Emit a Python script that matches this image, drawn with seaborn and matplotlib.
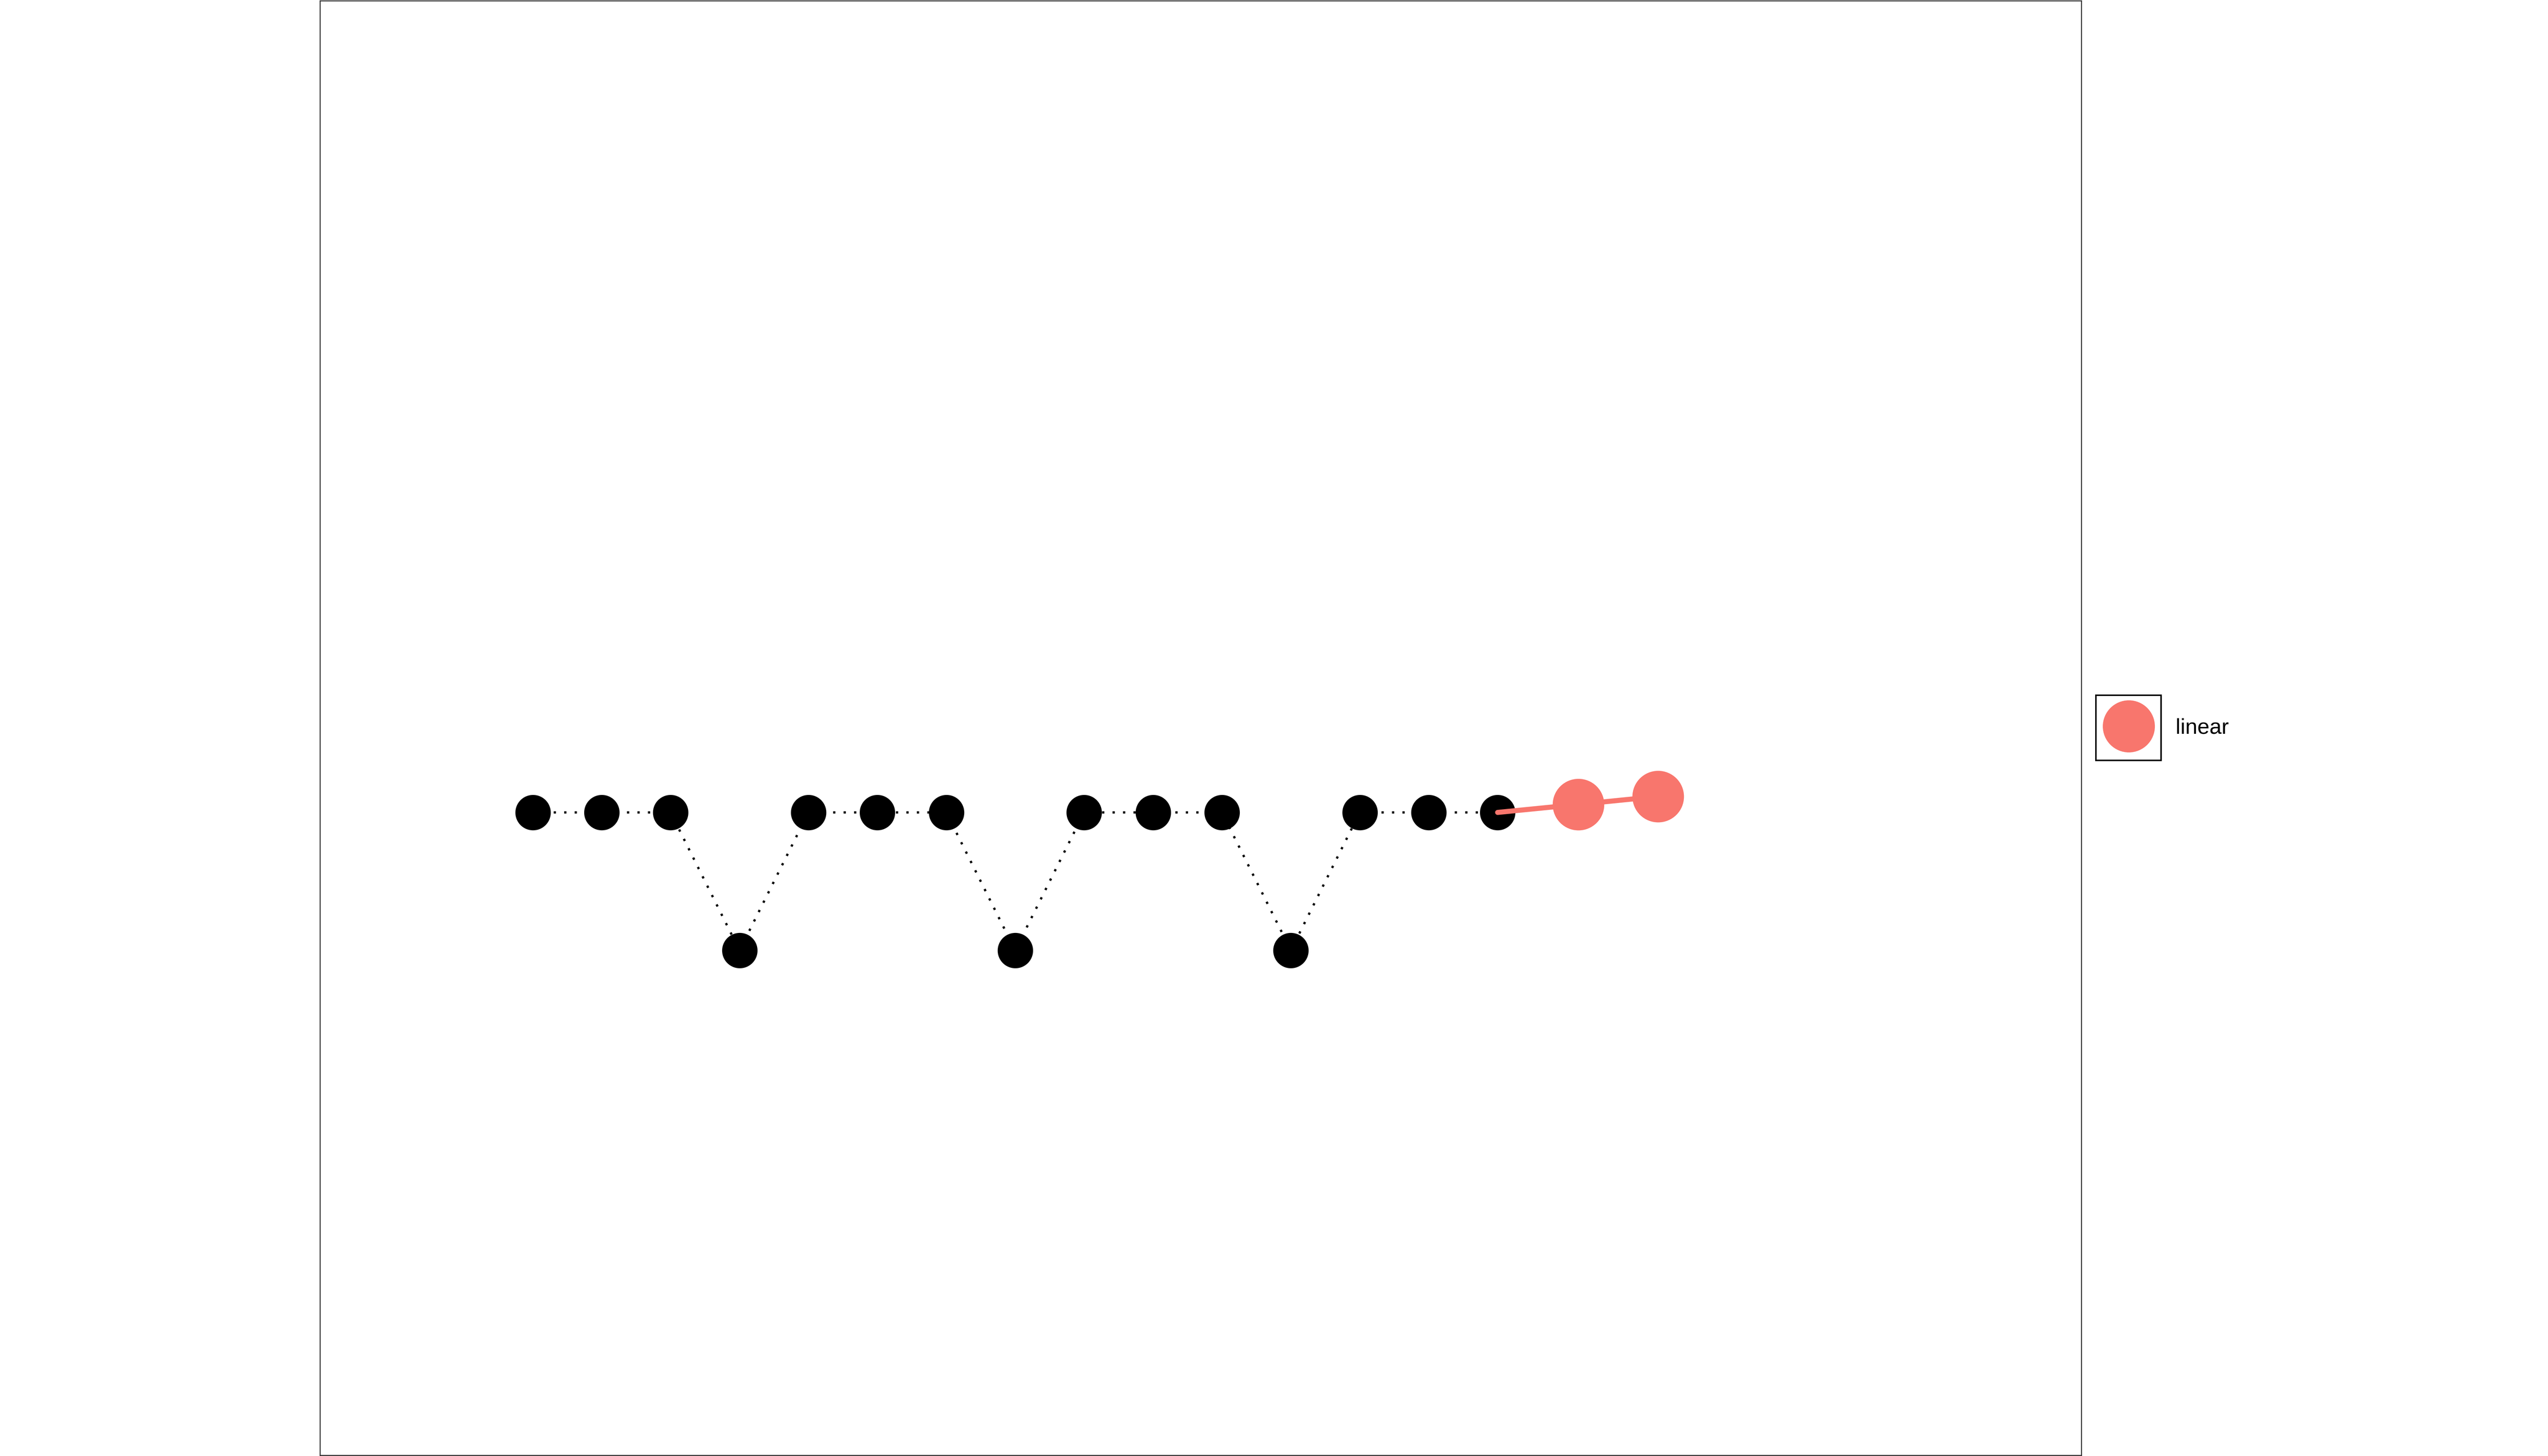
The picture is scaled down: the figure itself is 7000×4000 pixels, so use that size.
import numpy
import pandas
from matplotlib import pyplot as plt
from matplotlib.lines import Line2D
from matplotlib.patches import Rectangle
import seaborn

# observed series and the linear forecast that follows it
obs_x = [1, 2, 3, 4, 5, 6, 7, 8, 9, 10, 11, 12, 13, 14, 15]
obs_y = [1, 1, 1, 0, 1, 1, 1, 0, 1, 1, 1, 0, 1, 1, 1]
fc_x = [16.17, 17.33]
fc_y = [1.058, 1.116]
fc_label = "linear"

red = "#F8766D"

seaborn.set_style("white")
plt.rcParams['font.family'] = ['Liberation Sans', 'DejaVu Sans']
plt.rcParams['text.color'] = 'black'

obs = pandas.DataFrame({'x': obs_x, 'y': obs_y})
fc = pandas.DataFrame({'x': fc_x, 'y': fc_y})
# the forecast line starts at the last observed point
fc_line = pandas.concat([obs.tail(1), fc], ignore_index=True)

fig = plt.figure(figsize=(70, 40), dpi=100)
ax = fig.add_axes([879 / 7000, 0.0005, (5718 - 879) / 7000, 0.999])

seaborn.lineplot(data=obs, x='x', y='y', ax=ax, color='black', linewidth=4.5,
                 dashes=False, zorder=1)
ax.lines[-1].set_dashes((1, 3.6))
ax.lines[-1].set_dash_capstyle('butt')
seaborn.scatterplot(data=obs, x='x', y='y', ax=ax, color='black', s=70 ** 2,
                    linewidth=0, zorder=2)
seaborn.lineplot(data=fc_line, x='x', y='y', ax=ax, color=red, linewidth=10,
                 zorder=3)
seaborn.scatterplot(data=fc, x='x', y='y', ax=ax, color=red, s=102 ** 2,
                    linewidth=0, zorder=4)

ax.set_xlim(-2.088, 23.47)
ax.set_ylim(-3.66, 6.884)
ax.set_xticks([])
ax.set_yticks([])
ax.set(xlabel='', ylabel='')
for sp in ax.spines.values():
    sp.set_color('#333333')
    sp.set_linewidth(2)

# legend with a ggplot-like key box
handle = Line2D([], [], marker='o', color=red, linestyle='none', markersize=102)
leg = fig.legend(handles=[handle], labels=[fc_label], loc='center left',
                 bbox_to_anchor=(5758 / 7000, 0.5), frameon=False, fontsize=43,
                 handlelength=3.0, handletextpad=0.67, borderpad=0, borderaxespad=0)
for t in leg.get_texts():
    t.set_color('black')
fig.patches.append(Rectangle((5758 / 7000, 1 - 2089 / 4000), 179 / 7000, 179 / 4000,
                             transform=fig.transFigure, fill=False,
                             edgecolor='black', linewidth=3))

plt.savefig("out.png", dpi=100)
